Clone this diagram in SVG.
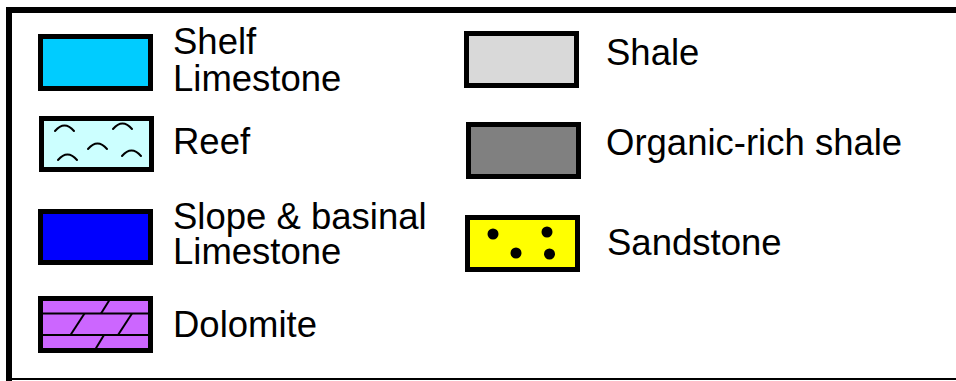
<svg xmlns="http://www.w3.org/2000/svg" width="956" height="381" viewBox="0 0 956 381">
<style>
.box{stroke:#000;stroke-width:5}
.lbl{font-family:"Liberation Sans",Arial,sans-serif;font-size:36.5px;fill:#000}
.arc{fill:none;stroke:#000;stroke-width:2;stroke-linecap:round}
.ln{stroke:#000;stroke-width:2}
</style>
<rect width="956" height="381" fill="#fff"/>
<g id="frame">
<polyline points="9,381 9,10 956,10" fill="none" stroke="#000" stroke-width="6"/>
<line x1="6" y1="379" x2="956" y2="379" stroke="#000" stroke-width="2"/>
</g>
<g id="shelf-limestone">
<rect class="box" x="40.5" y="36.5" width="110" height="52" fill="#00ccff"/>
<text class="lbl" x="173" y="54">Shelf</text>
<text class="lbl" x="173" y="91">Limestone</text>
</g>
<g id="reef">
<rect class="box" x="41.5" y="118.5" width="110" height="51" fill="#ccffff"/>
<path class="arc" d="M55,131 Q64.5,120 74,131"/>
<path class="arc" d="M113,129 Q122.5,118 132,129"/>
<path class="arc" d="M88,149 Q97.5,138 107,149"/>
<path class="arc" d="M58,160 Q67.5,149 77,160"/>
<path class="arc" d="M122,156 Q131.5,145 141,156"/>
<text class="lbl" x="173" y="154">Reef</text>
</g>
<g id="slope-limestone">
<rect class="box" x="40.5" y="211.5" width="110" height="51" fill="#0000ff"/>
<text class="lbl" x="173" y="229">Slope &amp; basinal</text>
<text class="lbl" x="173" y="264">Limestone</text>
</g>
<g id="dolomite">
<rect class="box" x="40.5" y="298.5" width="110" height="52" fill="#cc66ff"/>
<line class="ln" x1="40" y1="313.5" x2="151" y2="313.5"/>
<line class="ln" x1="40" y1="335" x2="151" y2="335"/>
<line class="ln" x1="109.5" y1="300" x2="101" y2="313.5"/>
<line class="ln" x1="84.5" y1="313.5" x2="70.5" y2="335"/>
<line class="ln" x1="132" y1="313.5" x2="118" y2="335"/>
<line class="ln" x1="104" y1="335" x2="95.5" y2="349"/>
<text class="lbl" x="173" y="337">Dolomite</text>
</g>
<g id="shale">
<rect class="box" x="466.5" y="33.5" width="110" height="52" fill="#d9d9d9"/>
<text class="lbl" x="606" y="65">Shale</text>
</g>
<g id="organic-rich-shale">
<rect class="box" x="468.5" y="124.5" width="110" height="52" fill="#808080"/>
<text class="lbl" x="606" y="155">Organic-rich shale</text>
</g>
<g id="sandstone">
<rect class="box" x="467.5" y="217.5" width="110" height="52" fill="#ffff00"/>
<circle cx="493" cy="234" r="5.5"/>
<circle cx="547" cy="232" r="5.5"/>
<circle cx="516" cy="253" r="5.5"/>
<circle cx="549.5" cy="254" r="5.5"/>
<text class="lbl" x="607" y="255">Sandstone</text>
</g>
<g id="connectors"/>
</svg>
